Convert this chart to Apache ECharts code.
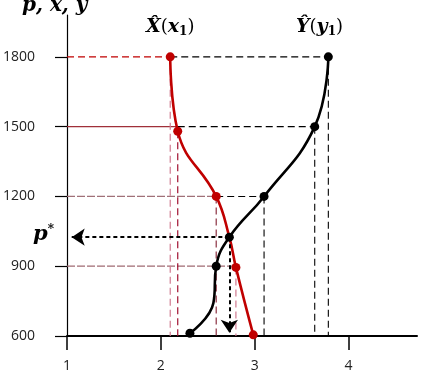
<!DOCTYPE html>
<html><head><meta charset="utf-8">
<script src="https://cdn.jsdelivr.net/npm/echarts@6/dist/echarts.min.js"></script>
<style>html,body{margin:0;padding:0;background:#fff}#c{width:442px;height:374px}</style>
</head><body><div id="c"></div>
<script>
const xTicks = [1, 2, 3, 4];
const yTicks = [600, 900, 1200, 1500, 1800];
// X-hat(x1) curve (red)
const redX = [2.1, 2.18, 2.59, 2.73, 2.8, 2.985];
const redY = [1800, 1480, 1200, 1025, 895, 605];
const redMarked = [true, true, true, false, true, true];
// Y-hat(y1) curve (black)
const blackX = [3.785, 3.64, 3.10, 2.73, 2.59, 2.56, 2.31];
const blackY = [1800, 1500, 1200, 1025, 900, 742, 612];
const blackMarked = [true, true, true, true, true, false, true];
// equilibrium
const eqX = 2.73, eqY = 1025;
const guideLevels = [1800, 1500, 1200, 900];
const redGuideIdx = [0, 1, 2, 4];
const blackGuideIdx = [0, 1, 2];

const RED = '#c00000';
const series = [];
function seg(x1, y1, x2, y2, color, type, width, z) {
  series.push({type: 'line', data: [[x1, y1], [x2, y2]], symbol: 'none', silent: true, z: z || 1,
    lineStyle: {color: color, type: type, width: width || 1}, animation: false});
}
const hColors = ['#c00000', '#a0303a', '#a07078', '#a06a72'];
const hTypes = [[7, 4], 'solid', [8, 2], [8, 2]];
guideLevels.forEach((lv, k) => {
  const rx = redX[redGuideIdx[k]];
  seg(xTicks[0], lv, rx, lv, hColors[k], hTypes[k], 1.2);
  if (k < blackGuideIdx.length) {
    seg(rx, lv, blackX[blackGuideIdx[k]], lv, '#000', [7, 4], 1.1);
  }
});
const vRedColors = ['#d07a90', '#a01030', '#8a3040', '#d07a90'];
redGuideIdx.forEach((i, k) => seg(redX[i], redY[i], redX[i], yTicks[0], vRedColors[k], [7, 4], 1.2));
blackGuideIdx.forEach(i => seg(blackX[i], blackY[i], blackX[i], yTicks[0], '#000', [7, 4], 1.1));

series.push({
  type: 'line', smooth: 0.45, z: 3, animation: false,
  data: redX.map((x, i) => ({value: [x, redY[i]], symbol: redMarked[i] ? 'circle' : 'none'})),
  symbolSize: 9, itemStyle: {color: RED}, lineStyle: {color: RED, width: 2.6},
});
series.push({
  type: 'line', smooth: 0.45, z: 4, animation: false,
  data: blackX.map((x, i) => ({value: [x, blackY[i]], symbol: blackMarked[i] ? 'circle' : 'none'})),
  symbolSize: 9, itemStyle: {color: '#000'}, lineStyle: {color: '#000', width: 2.6},
});
series.push({
  type: 'line', data: [[eqX, eqY]], symbol: 'none', z: 5, animation: false,
  markLine: {
    silent: true, animation: false, symbol: ['none', 'arrow'], symbolSize: 13,
    label: {show: false},
    itemStyle: {color: '#000'},
    lineStyle: {color: '#000', type: [4, 3], width: 2},
    data: [
      [{coord: [eqX, eqY]}, {coord: [1.05, eqY]}],
      [{coord: [eqX, eqY]}, {coord: [eqX, 614]}]
    ]
  }
});

const chart = echarts.init(document.getElementById('c'), null, {renderer: 'canvas'});
const serif = "'DejaVu Serif', 'Liberation Serif', serif";
const fmt = v => String(v);
chart.setOption({
  animation: false,
  grid: {left: 67, right: 25, top: 15, bottom: 38},
  xAxis: {
    type: 'value', min: 1, max: 4.73,
    splitLine: {show: false},
    axisLine: {show: true, onZero: false, lineStyle: {color: '#000', width: 2}},
    axisTick: {show: true, length: 14, customValues: xTicks, lineStyle: {color: '#000', width: 1.5}},
    axisLabel: {customValues: xTicks, formatter: fmt, margin: 23, fontSize: 14, color: '#222', fontFamily: 'Open Sans'}
  },
  yAxis: {
    type: 'value', min: 600, max: 1980,
    splitLine: {show: false},
    axisLine: {show: true, onZero: false, lineStyle: {color: '#000', width: 1.2}},
    axisTick: {show: true, length: 12, customValues: yTicks, lineStyle: {color: '#000', width: 1.2}},
    axisLabel: {customValues: yTicks, formatter: fmt, margin: 32, fontSize: 14, color: '#222', fontFamily: 'Open Sans'}
  },
  series: series,
  graphic: [
    {type: 'text', left: 22, top: -4, style: {text: 'p, x, y', font: "bold italic 20px " + serif, fill: '#000'}},
    {type: 'text', left: 146, top: 18, style: {
      rich: {b: {font: "bold italic 19px " + serif, fill: '#000'}, p: {font: "18px " + serif}, s: {font: "bold 12px " + serif, padding: [9, 0, 0, 0]}},
      text: '{b|X\u0302}{p|(}{b|x}{s|1}{p|)}'}},
    {type: 'text', left: 296, top: 18, style: {
      rich: {b: {font: "bold italic 19px " + serif, fill: '#000'}, p: {font: "18px " + serif}, s: {font: "bold 12px " + serif, padding: [9, 0, 0, 0]}},
      text: '{b|Y\u0302}{p|(}{b|y}{s|1}{p|)}'}},
    {type: 'text', left: 33, top: 224, style: {
      rich: {b: {font: "bold italic 21px " + serif, fill: '#000'}, s: {font: "bold 12px " + serif, padding: [0, 0, 9, 0]}},
      text: '{b|p}{s|*}'}}
  ]
});
</script></body></html>
